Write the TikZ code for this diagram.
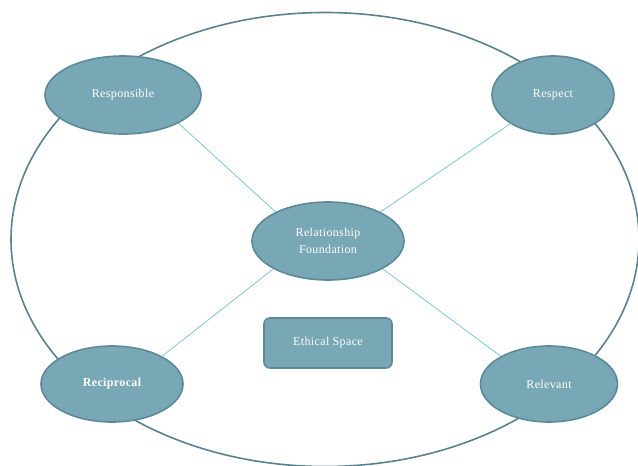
\documentclass[tikz,border=0pt]{standalone}
\usepackage{fontspec}
\setmainfont{Liberation Serif}
\usetikzlibrary{shapes.geometric}
\definecolor{nodefill}{RGB}{120,168,181}
\definecolor{nodeedge}{RGB}{92,138,151}
\definecolor{ringcol}{RGB}{90,130,142}
\definecolor{linkcol}{RGB}{126,196,218}
\newcommand{\lblfont}{\fontsize{12}{17}\selectfont\addfontfeatures{LetterSpace=3}}
\tikzset{
  oval/.style={ellipse, draw=nodeedge, line width=1.6pt, fill=nodefill, text=white, inner sep=0pt, font=\lblfont, align=center},
  spacebox/.style={rectangle, rounded corners=6pt, draw=nodeedge, line width=1.6pt, fill=nodefill, text=white, minimum width=128pt, minimum height=50pt, font=\lblfont},
  link/.style={draw=linkcol, line width=0.8pt},
  ring/.style={draw=ringcol, line width=1.6pt}
}
\begin{document}
\begin{tikzpicture}[x=1pt,y=-1pt]
\useasboundingbox (0,0) rectangle (638,466);
\clip (0,0) rectangle (638,466);
\draw[ring] (325,239.5) ellipse [x radius=314, y radius=227];
\node[oval, minimum width=156pt, minimum height=78pt] (resp) at (123,95) {Responsible};
\node[oval, minimum width=122pt, minimum height=78pt] (respect) at (553,95) {Respect};
\node[oval, minimum width=152pt, minimum height=78pt] (rel) at (328,241) {Relationship\\Foundation};
\node[spacebox] (eth) at (328,343) {Ethical Space};
\node[oval, minimum width=142pt, minimum height=76pt, font=\lblfont\bfseries] (recip) at (112,384) {Reciprocal};
\node[oval, minimum width=137pt, minimum height=76pt] (relev) at (549,384) {Relevant};
\draw[link] (resp.-27) -- (rel.151);
\draw[link] (respect.214) -- (rel.29);
\draw[link] (recip.29) -- (rel.207);
\draw[link] (relev.150) -- (rel.-27);
\end{tikzpicture}
\end{document}
